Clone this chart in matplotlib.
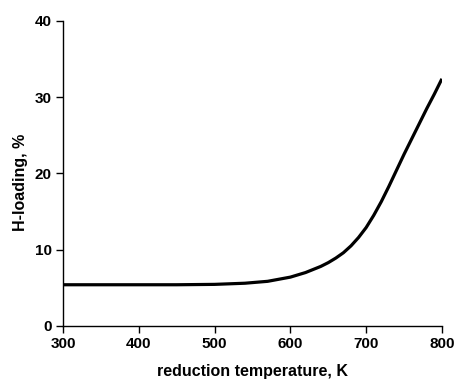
import matplotlib
matplotlib.use("Agg")
import matplotlib.pyplot as plt

# values
temperature_k = [300, 350, 400, 450, 500, 540, 570, 600, 620, 640, 650,
                 660, 670, 680, 690, 700, 710, 720, 730, 740, 750, 760,
                 770, 780, 790, 800]
h_loading = [5.4, 5.4, 5.4, 5.4, 5.45, 5.6, 5.85, 6.4, 7.0, 7.8, 8.3,
             8.9, 9.6, 10.5, 11.6, 12.9, 14.5, 16.3, 18.3, 20.4, 22.5, 24.5,
             26.5, 28.5, 30.4, 32.4]

x_ticks = [300, 400, 500, 600, 700, 800]
y_ticks = [0, 10, 20, 30, 40]

plt.rcParams["font.family"] = ["Liberation Sans", "DejaVu Sans"]
plt.rcParams["font.weight"] = "bold"

fig = plt.figure(figsize=(4.57, 3.79), dpi=100)
ax = fig.add_axes([0.138, 0.140, 0.829, 0.805])

ax.plot(temperature_k, h_loading, color="black", linewidth=2.3,
        solid_capstyle="butt", solid_joinstyle="round")

ax.set_xlim(300, 800)
ax.set_ylim(0, 40)
ax.set_xticks(x_ticks)
ax.set_yticks(y_ticks)
ax.spines["top"].set_visible(False)
ax.spines["right"].set_visible(False)
for s in ("left", "bottom"):
    ax.spines[s].set_linewidth(1.0)
ax.tick_params(direction="out", length=5, width=1.0, labelsize=11, pad=3)
for lbl in ax.get_xticklabels() + ax.get_yticklabels():
    lbl.set_fontweight("bold")

ax.set_xlabel("reduction temperature, K", fontsize=11.5, fontweight="bold")
ax.set_ylabel("H-loading, %", fontsize=11.5, fontweight="bold")
# place labels where the reference has them (pixel positions in figure)
ax.xaxis.set_label_coords(0.5, -53 / 305, transform=ax.transAxes)
ax.yaxis.set_label_coords(-43 / 379, 0.469, transform=ax.transAxes)
ax.xaxis.label.set_va("bottom")
ax.yaxis.label.set_va("center")

fig.savefig("out.png", dpi=100)
